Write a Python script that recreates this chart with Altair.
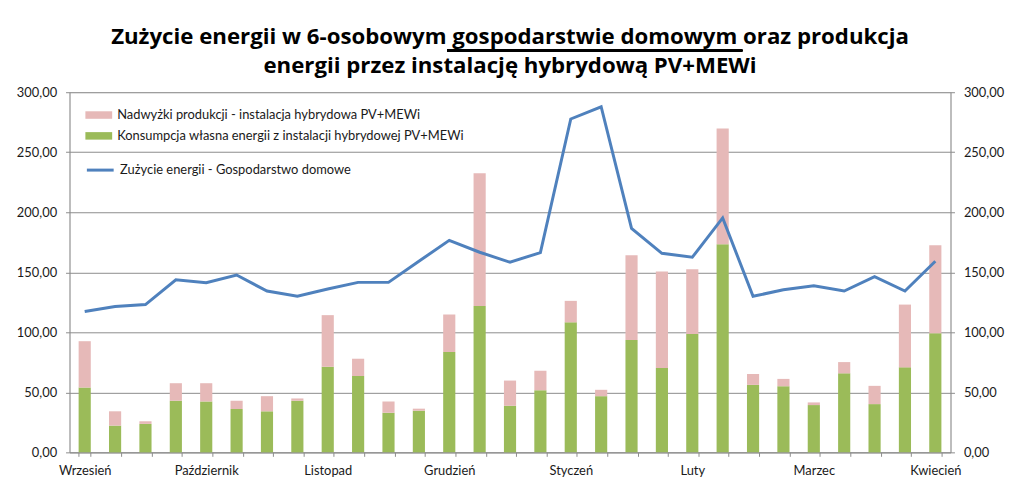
import altair as alt
import pandas as pd

# ---- data ----
tygodnie = list(range(1, 30))
miesiace = ["Wrzesień", "Październik", "Listopad", "Grudzień", "Styczeń", "Luty", "Marzec", "Kwiecień"]
tygodnie_miesiecy = [1, 5, 9, 13, 17, 21, 25, 29]

konsumpcja = [54.0, 22.3, 23.7, 43.0, 42.4, 36.1, 34.2, 43.0, 71.3, 63.6, 33.1, 34.7, 83.5, 122.0, 38.8,
              51.8, 108.3, 46.8, 93.7, 70.2, 98.6, 173.3, 56.2, 55.1, 39.4, 65.8, 40.2, 70.8, 99.2]
nadwyzki = [38.6, 11.9, 2.2, 14.6, 15.2, 6.9, 12.6, 1.9, 43.0, 14.4, 9.3, 1.7, 31.4, 110.5, 21.0,
            16.2, 17.9, 5.3, 70.5, 80.5, 54.0, 96.4, 9.1, 6.1, 2.2, 9.4, 15.2, 52.3, 73.3]
zuzycie = [117.4, 121.5, 123.1, 143.8, 141.3, 147.7, 134.4, 130.0, 136.1, 141.6, 141.6, 159.2, 176.6, 166.7, 158.4,
           166.4, 277.7, 287.9, 186.5, 165.8, 162.5, 195.3, 130.0, 135.5, 138.8, 134.4, 146.3, 134.4, 159.2]

S_NADW = "Nadwyżki produkcji - instalacja hybrydowa PV+MEWi"
S_KONS = "Konsumpcja własna energii z instalacji hybrydowej PV+MEWi"
S_ZUZ = "Zużycie energii - Gospodarstwo domowe"

tytul = ["Zużycie energii w 6-osobowym gospodarstwie domowym oraz produkcja",
         "energii przez instalację hybrydową PV+MEWi"]
y_ticks = [0, 50, 100, 150, 200, 250, 300]

# ---- tables ----
rows = []
for t, k, n in zip(tygodnie, konsumpcja, nadwyzki):
    rows.append({"tydzien": t, "seria": S_KONS, "wartosc": k, "kolejnosc": 0})
    rows.append({"tydzien": t, "seria": S_NADW, "wartosc": n, "kolejnosc": 1})
df_bar = pd.DataFrame(rows)
df_line = pd.DataFrame({"tydzien": tygodnie, "zuzycie": zuzycie, "seria": [S_ZUZ] * len(tygodnie)})

label_expr = " : ".join(f"datum.value == {w} ? '{m}'" for w, m in zip(tygodnie_miesiecy, miesiace)) + " : ''"
num_expr = "replace(format(datum.value, '.2f'), '.', ',')"

FONT = "Lato"
TFONT = "Open Sans"
GRAY = "#8c8c8c"
TXT = "#1a1a1a"

x_enc = alt.X("tydzien:O",
              scale=alt.Scale(paddingInner=0.6, paddingOuter=0.3),
              axis=alt.Axis(title=None, labelExpr=label_expr, labelAngle=0, tickBand="extent",
                            grid=False, tickSize=4, labelPadding=8, domainColor=GRAY, tickColor=GRAY,
                            labelFont=FONT, labelFontSize=13, labelColor=TXT))

bars = alt.Chart(df_bar).mark_bar().encode(
    x=x_enc,
    y=alt.Y("wartosc:Q", stack="zero",
            scale=alt.Scale(domain=[0, 300], nice=False),
            axis=alt.Axis(title=None, orient="left", values=y_ticks, labelExpr=num_expr,
                          grid=True, gridColor=GRAY, domainColor=GRAY, tickColor=GRAY,
                          tickSize=4, labelPadding=9, labelFont=FONT, labelFontSize=13, labelColor=TXT)),
    fill=alt.Fill("seria:N",
                  scale=alt.Scale(domain=[S_NADW, S_KONS], range=["#E6B9B8", "#9BBB59"]),
                  legend=alt.Legend(title=None, orient="none", legendX=16, legendY=9.5,
                                    symbolType="M-1,-0.28H1V0.28H-1Z", symbolSize=729,
                                    symbolStrokeWidth=0, rowPadding=0, padding=0, labelOffset=5,
                                    labelFont=FONT, labelFontSize=13, labelColor=TXT, labelLimit=600)),
    order=alt.Order("kolejnosc:Q"),
)

line = alt.Chart(df_line).mark_line(strokeWidth=3).encode(
    x=alt.X("tydzien:O"),
    y=alt.Y("zuzycie:Q",
            scale=alt.Scale(domain=[0, 300], nice=False),
            axis=alt.Axis(title=None, orient="right", values=y_ticks, labelExpr=num_expr,
                          grid=False, domainColor=GRAY, tickColor=GRAY,
                          tickSize=4, labelPadding=9, labelFont=FONT, labelFontSize=13, labelColor=TXT)),
    stroke=alt.Stroke("seria:N", scale=alt.Scale(domain=[S_ZUZ], range=["#4F81BD"]),
                      legend=alt.Legend(title=None, orient="none", legendX=16, legendY=63.5,
                                        symbolType="stroke", symbolSize=729, symbolStrokeWidth=3,
                                        rowPadding=0, padding=0, labelOffset=5,
                                        labelFont=FONT, labelFontSize=13, labelColor=TXT, labelLimit=600)),
)

underline = alt.Chart(df_line).mark_rule(color="black", strokeWidth=1.5).encode(
    x=alt.value(381), x2=alt.value(678), y=alt.value(-42)
)

chart = alt.layer(bars, line, underline).resolve_scale(
    y="independent", fill="independent", stroke="independent"
).properties(
    width=888, height=363,
    autosize="none",
    padding={"left": 62, "top": 83, "right": 65, "bottom": 30},
    title=alt.TitleParams(text=tytul, font=TFONT, fontSize=22.4, fontWeight="bold", color="black",
                          anchor="middle", lineHeight=29, baseline="alphabetic", offset=-46),
).configure_view(stroke="transparent").configure(background="white")

chart.save("out.html", embed_options={"renderer": "svg", "actions": False})
